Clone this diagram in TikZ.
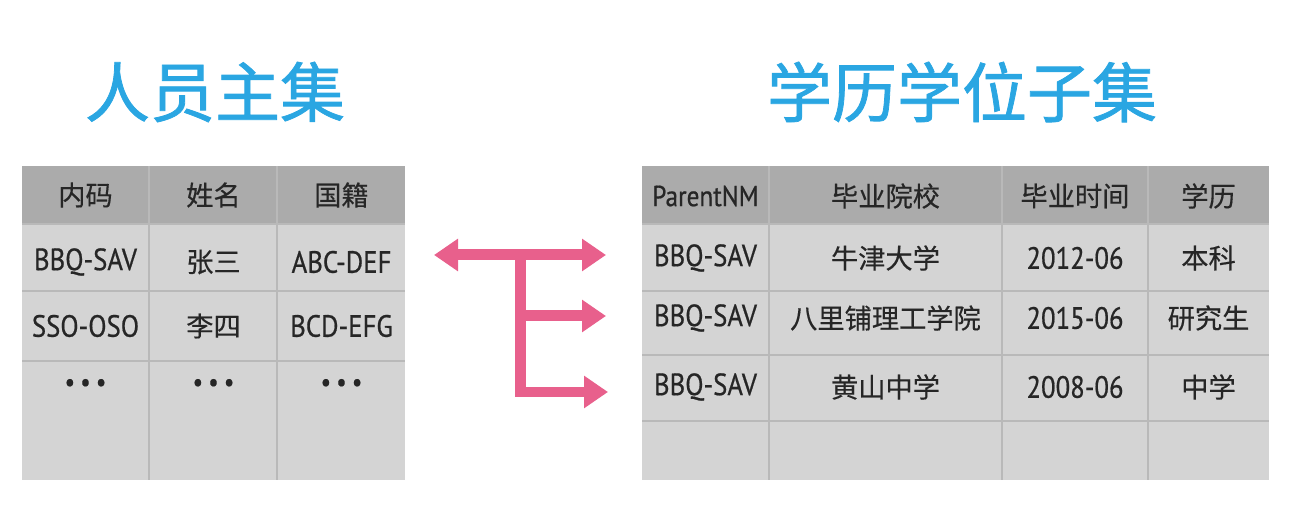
\documentclass[tikz,border=0pt]{standalone}
\usepackage{fontspec}
\setmainfont{PT Sans}[FakeStretch=0.87, FakeBold=0.6]
\newfontfamily\cjk{Noto Sans CJK SC}[FakeBold=0.4]
\newfontfamily\cjktitle{Noto Sans CJK SC}[FakeBold=1.2]
\usepackage{tikz}
\usetikzlibrary{arrows.meta,positioning,calc}
\usepackage{xcolor}
\definecolor{titleblue}{HTML}{2AA6E2}
\definecolor{linkpink}{HTML}{E8608C}
\definecolor{headgray}{HTML}{ABABAB}
\definecolor{cellgray}{HTML}{D4D4D4}
\definecolor{gridgray}{HTML}{B9B9B9}

\begin{document}
\begin{tikzpicture}[
    x=0.02cm, y=-0.02cm,
    every node/.style={inner sep=0pt, text=black!85},
    title/.style={font=\cjktitle\fontsize{37}{40}\selectfont, text=titleblue},
    headtxt/.style={font=\cjk\fontsize{15.5}{18}\selectfont},
    headlat/.style={font=\fontsize{16.5}{18}\selectfont},
    cell/.style={font=\fontsize{17.5}{20}\selectfont},
    cellcjk/.style={font=\cjk\fontsize{15.5}{18}\selectfont},
    dots/.style={font=\fontsize{15}{15}\selectfont},
    gridline/.style={gridgray, line width=1.2pt},
    link/.style={linkpink, line width=0.22cm},
    linktip/.style={-{Triangle[length=0.48cm, width=0.62cm]}}
]

\useasboundingbox (0,0) rectangle (1294,516);

% Titles
\node[title] (tPerson) at (215,92) {人员主集};
\node[title] (tEdu) at (962,92) {学历学位子集};

% Left table: person master set
\fill[headgray] (22,166) rectangle (405,224);
\fill[cellgray] (22,224) rectangle (405,480);
\foreach \xv in {149,277} \draw[gridline] (\xv,166) -- (\xv,480);
\foreach \yv in {224,291,361} \draw[gridline] (22,\yv) -- (405,\yv);

\foreach \txt [count=\i] in {内码,姓名,国籍} {
    \pgfmathsetmacro{\xpos}{85.5 + (\i-1)*128}
    \node[headtxt] (ph\i) at (\xpos,195) {\txt};
}
\node[cell] (p1c1) at (85.5,262) {BBQ-SAV};
\node[cellcjk] (p1c2) at (213.5,262) {张三};
\node[cell] (p1c3) at (341.5,262) {ABC-DEF};
\node[cell] (p2c1) at (85.5,326) {SSO-OSO};
\node[cellcjk] (p2c2) at (213.5,326) {李四};
\node[cell] (p2c3) at (341.5,326) {BCD-EFG};
\foreach \i in {1,...,3} {
    \pgfmathsetmacro{\xpos}{85.5 + (\i-1)*128}
    \node[dots] (p3c\i) at (\xpos,385) {•\hspace{3pt}•\hspace{3pt}•};
}

% Right table: education subset
\fill[headgray] (642,166) rectangle (1269,224);
\fill[cellgray] (642,224) rectangle (1269,480);
\foreach \xv in {769,1002,1148} \draw[gridline] (\xv,166) -- (\xv,480);
\foreach \yv in {224,291,355,421} \draw[gridline] (642,\yv) -- (1269,\yv);

\node[headlat] (eh1) at (705.5,196) {ParentNM};
\node[headtxt] (eh2) at (885.5,196) {毕业院校};
\node[headtxt] (eh3) at (1075,196) {毕业时间};
\node[headtxt] (eh4) at (1208.5,196) {学历};

\foreach \ypos/\code/\school/\grad/\degree [count=\r] in {
    258/BBQ-SAV/牛津大学/2012-06/本科,
    318/BBQ-SAV/八里铺理工学院/2015-06/研究生,
    387/BBQ-SAV/黄山中学/2008-06/中学} {
    \node[cell] (e\r c1) at (705.5,\ypos) {\code};
    \node[cellcjk] (e\r c2) at (885.5,\ypos) {\school};
    \node[cell] (e\r c3) at (1075,\ypos) {\grad};
    \node[cellcjk] (e\r c4) at (1208.5,\ypos) {\degree};
}

% Link arrows
\coordinate (lTip) at (434,255);
\coordinate (rTip1) at (606,255);
\coordinate (jTop) at (520,255);
\coordinate (jMid) at (520,316);
\coordinate (jBot) at (520,392);
\coordinate (rTip2) at (606,316);
\coordinate (rTip3) at (608,392);

\draw[link, {Triangle[length=0.48cm, width=0.62cm]}-{Triangle[length=0.48cm, width=0.62cm]}] (lTip) -- (rTip1);
\draw[link, linktip] (jMid) -- (rTip2);
\draw[link, linktip] (jTop) -- (jBot) -- (rTip3);

\end{tikzpicture}
\end{document}
